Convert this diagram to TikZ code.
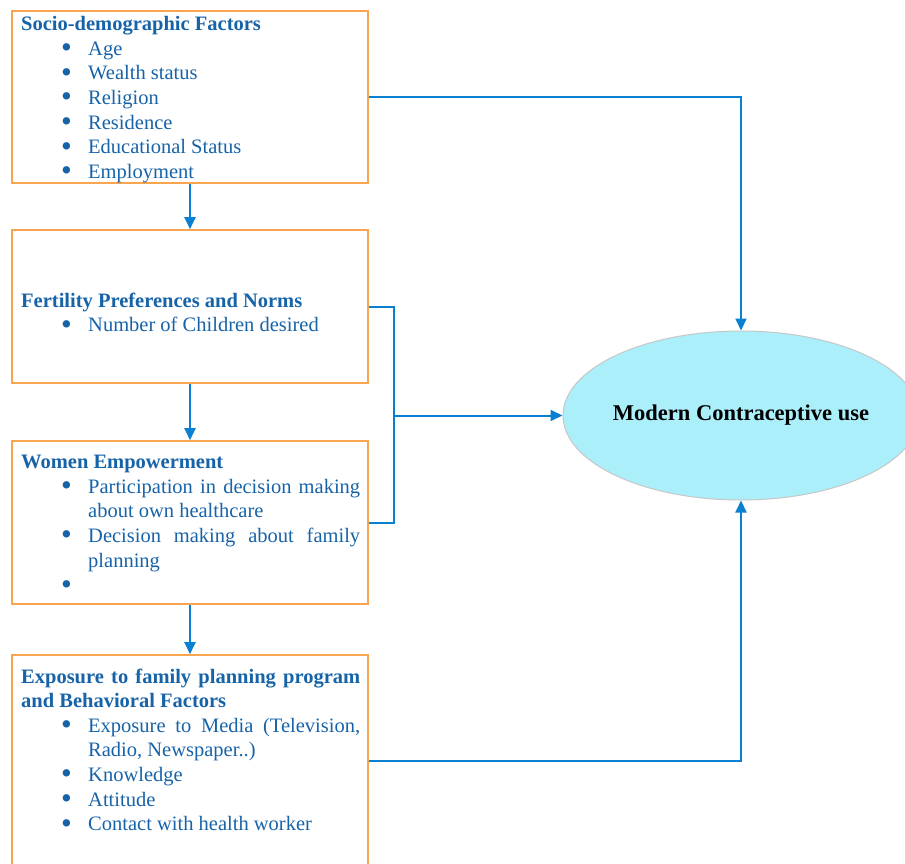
\documentclass[tikz,border=0pt]{standalone}
\usepackage{fontspec}
\usepackage{graphicx}
\setmainfont{Liberation Serif}
\usetikzlibrary{arrows.meta,shapes.geometric}
\definecolor{boxorange}{HTML}{F8A550}
\definecolor{txtblue}{HTML}{1763A8}
\definecolor{flowblue}{HTML}{0A80D2}
\definecolor{mcufill}{HTML}{ABEFFB}
\newcommand{\bitem}[1]{\par\hangindent=67pt\hangafter=0\noindent\llap{\makebox[27pt][l]{\raisebox{-0.12em}{\scalebox{1.5}{\textbullet}}}}#1\par}
\begin{document}
\begin{tikzpicture}[x=1pt,y=-1pt,
    factor/.style={draw=boxorange,line width=1.6pt,rectangle,minimum width=356pt,inner sep=0pt},
    txt/.style={text=txtblue,font=\fontsize{20.5}{24.6}\selectfont,text width=339pt,align=justify,inner sep=0pt,anchor=north west},
    flow/.style={draw=flowblue,line width=2pt,-{Triangle[length=12pt,width=11pt]}},
    link/.style={draw=flowblue,line width=2pt}]
    \useasboundingbox (0,0) rectangle (905,864);

    \node (socio) at (190,97) [factor,minimum height=172pt] {};
    \node (socioTxt) at (21,16.3) [txt] {\textbf{Socio-demographic Factors}
      \bitem{Age}
      \bitem{Wealth status}
      \bitem{Religion}
      \bitem{Residence}
      \bitem{Educational Status}
      \bitem{Employment}};

    \node (fert) at (190,306.5) [factor,minimum height=153pt] {};
    \node (fertTxt) at (21,292.5) [txt] {\textbf{Fertility Preferences and Norms}
      \bitem{Number of Children desired}};

    \node (women) at (190,522.5) [factor,minimum height=163pt] {};
    \node (womenTxt) at (21,455) [txt] {\textbf{Women Empowerment}
      \bitem{Participation in decision making\linebreak about own healthcare}
      \bitem{Decision making about family\linebreak planning}
      \bitem{}};

    \node (expo) at (190,761) [factor,minimum height=212pt] {};
    \node (expoTxt) at (21,668.5) [txt] {\textbf{Exposure to family planning program\linebreak and Behavioral Factors}
      \bitem{Exposure to Media (Television,\linebreak Radio, Newspaper..)}
      \bitem{Knowledge}
      \bitem{Attitude}
      \bitem{Contact with health worker}};

    \node (mcu) at (741,415.5) [ellipse,draw=black!22,line width=1pt,fill=mcufill,inner xsep=-8pt,inner ysep=0pt,
      minimum width=356pt,minimum height=169pt,font=\fontsize{22.5}{27}\selectfont\bfseries] {Modern Contraceptive use};

    \draw[flow] (socio.east) -| (mcu.north);
    \draw[flow] (socio.south) -- (fert.north);
    \draw[flow] (fert.south) -- (women.north);
    \draw[flow] (women.south) -- (expo.north);
    \draw[link] (fert.east) -- ++(25,0) coordinate (join) |- (women.east);
    \draw[flow] (join |- mcu.west) -- (mcu.west);
    \draw[flow] (expo.east) -| (mcu.south);
\end{tikzpicture}
\end{document}
